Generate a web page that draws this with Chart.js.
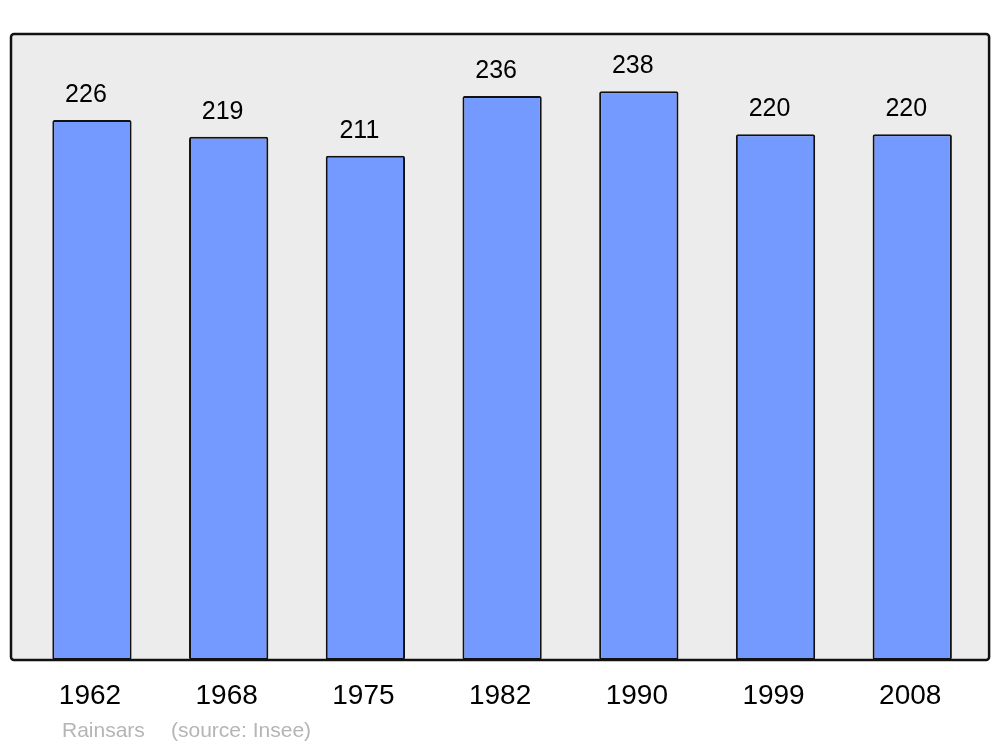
<!DOCTYPE html>
<html lang="fr">
<head>
  <meta charset="UTF-8">
  <title>Rainsars - population</title>
  <script src="https://cdn.jsdelivr.net/npm/chart.js"></script>
  <style>
    html, body { margin: 0; padding: 0; background: #fff; }
    #wrap { width: 1000px; height: 747px; }
  </style>
</head>
<body>
<div id="wrap"><canvas id="popChart" width="1000" height="747"></canvas></div>
<script>
  // data
  const years = ['1962', '1968', '1975', '1982', '1990', '1999', '2008'];
  const population = [226, 219, 211, 236, 238, 220, 220];
  const yMax = 262;
  const sourceName = 'Rainsars';
  const sourceNote = '(source: Insee)';

  const fontFamily = '"Liberation Sans", Arial, sans-serif';

  // grey panel behind the bars, with its black frame
  const panelPlugin = {
    id: 'panel',
    beforeDatasetsDraw(chart) {
      const { ctx, chartArea } = chart;
      ctx.save();
      ctx.beginPath();
      ctx.roundRect(chartArea.left - 12.6, chartArea.top, chartArea.right - chartArea.left + 21.1,
        chartArea.bottom - chartArea.top, 3);
      ctx.fillStyle = '#ececec';
      ctx.fill();
      ctx.restore();
    },
    afterDatasetsDraw(chart) {
      const { ctx, chartArea } = chart;
      ctx.save();
      ctx.beginPath();
      ctx.roundRect(chartArea.left - 12.6, chartArea.top, chartArea.right - chartArea.left + 21.1,
        chartArea.bottom - chartArea.top, 3);
      ctx.lineWidth = 2.5;
      ctx.strokeStyle = '#111';
      ctx.stroke();
      ctx.restore();
    }
  };

  // numbers above each bar
  const valueLabels = {
    id: 'valueLabels',
    afterDatasetsDraw(chart) {
      const { ctx } = chart;
      const meta = chart.getDatasetMeta(0);
      ctx.save();
      ctx.font = '25px ' + fontFamily;
      ctx.fillStyle = '#000';
      ctx.textAlign = 'center';
      ctx.textBaseline = 'alphabetic';
      meta.data.forEach((bar, i) => {
        ctx.fillText(String(population[i]), bar.x - 6, bar.y - 18);
      });
      ctx.restore();
    }
  };

  // source line at the bottom
  const sourceText = {
    id: 'sourceText',
    afterDraw(chart) {
      const { ctx } = chart;
      ctx.save();
      ctx.font = '21px ' + fontFamily;
      ctx.fillStyle = '#b5b5b5';
      ctx.textAlign = 'left';
      ctx.textBaseline = 'alphabetic';
      ctx.fillText(sourceName, 62, 737);
      ctx.fillText(sourceNote, 171, 737);
      ctx.restore();
    }
  };

  const ctx = document.getElementById('popChart').getContext('2d');
  new Chart(ctx, {
    type: 'bar',
    data: {
      labels: years,
      datasets: [{
        label: 'Population',
        data: population,
        backgroundColor: '#7499ff',
        borderColor: '#111',
        borderWidth: 2,
        borderRadius: 2,
        borderSkipped: false,
        barPercentage: 0.58,
        categoryPercentage: 1
      }]
    },
    options: {
      responsive: false,
      animation: false,
      layout: {
        padding: { left: 23.6, right: 19.4, top: 34, bottom: 14.6 }
      },
      plugins: {
        legend: { display: false },
        tooltip: { enabled: false }
      },
      scales: {
        x: {
          grid: { display: false, drawTicks: false },
          border: { display: false },
          ticks: {
            color: '#000',
            padding: 19.4,
            labelOffset: -2,
            font: { family: fontFamily, size: 28 }
          }
        },
        y: {
          display: false,
          min: 0,
          max: yMax
        }
      }
    },
    plugins: [panelPlugin, valueLabels, sourceText]
  });
</script>
</body>
</html>
